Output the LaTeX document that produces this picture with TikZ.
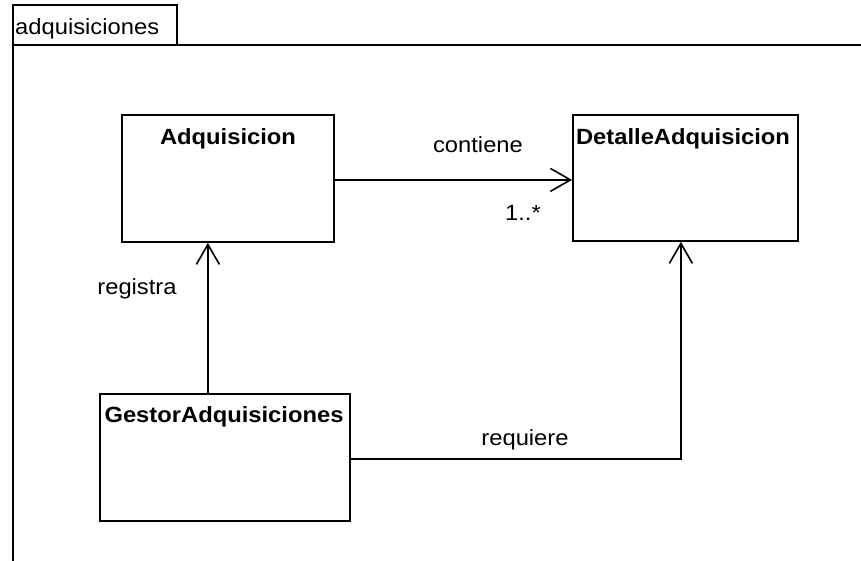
\documentclass[tikz,border=0pt]{standalone}
\usepackage{fontspec}
\setmainfont{Liberation Sans}[FakeStretch=1.08]
\usetikzlibrary{arrows.meta}
\begin{document}
\begin{tikzpicture}[x=1pt,y=-1pt,
  every node/.style={font=\fontsize{22}{25}\selectfont, inner sep=0pt},
  classbox/.style={draw, line width=1.8pt, rectangle, anchor=north west},
  classtitle/.style={font=\fontsize{22}{25}\selectfont\bfseries},
  frameline/.style={line width=1.6pt},
  assoc/.style={line width=1.6pt, -{Straight Barb[length=20pt,width=23pt,line width=1.6pt]}},
  lbl/.style={}
]
\useasboundingbox (0,0) rectangle (861,561);
% package frame
\draw[frameline] (13,45) rectangle (177,5);
\node[anchor=base west] (pkg) at (15,35) {adquisiciones};
\draw[frameline] (13,561) -- (13,45) -- (861,45);

% classes
\node[classbox, minimum width=212pt, minimum height=127pt] (adq) at (121,114) {};
\node[classtitle] (adqt) at (228,139) {Adquisicion};
\node[classbox, minimum width=225pt, minimum height=126pt] (det) at (572,114) {};
\node[classtitle] (dett) at (683,139) {DetalleAdquisicion};
\node[classbox, minimum width=250pt, minimum height=127pt] (ges) at (99,393) {};
\node[classtitle] (gest) at (224,417) {GestorAdquisiciones};

% connectors
\draw[assoc] ([yshift=-1.5pt]adq.east) -- ([yshift=-1.5pt]adq.east -| det.west);
\draw[assoc] ([xshift=-17pt]ges.north) -- ([xshift=-17pt]ges.north |- adq.south);
\draw[assoc] ([yshift=-1.5pt]ges.east) -| ([xshift=-4.5pt]det.south);

% labels
\node[lbl] (l1) at (478,145) {contiene};
\node[lbl] (l2) at (523,213) {1..*};
\node[lbl] (l3) at (137,289) {registra};
\node[lbl] (l4) at (525,440) {requiere};
\end{tikzpicture}
\end{document}
